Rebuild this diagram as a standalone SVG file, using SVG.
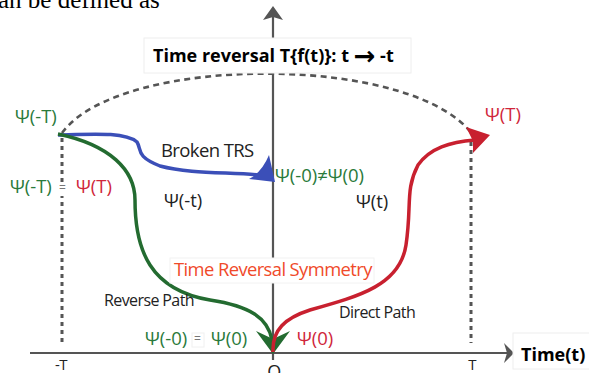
<svg xmlns="http://www.w3.org/2000/svg" width="589" height="373" viewBox="0 0 589 373">
<style>
.lbl{font-family:"Open Sans","Liberation Sans",sans-serif;letter-spacing:-0.6px}
.psi{font-family:"Open Sans","Liberation Sans",sans-serif;font-size:18.5px}
.g{fill:#2a7a3b}.r{fill:#d0263a}.k{fill:#222}
.ax{stroke:#555;stroke-width:2.2;fill:none}
.dash{stroke:#555;stroke-width:2.6;fill:none;stroke-dasharray:6 4.5}
.dot{stroke:#555;stroke-width:3;fill:none;stroke-dasharray:4 4}
.box{fill:#fff;stroke:#eee;stroke-width:1}
.bold{font-family:"Open Sans","Liberation Sans",sans-serif;font-weight:700;font-size:18px;fill:#000}
</style>
<rect width="589" height="373" fill="#fff"/>
<text x="-2" y="8" font-family="Liberation Serif,serif" font-size="25" fill="#000">an be defined as</text>
<g id="axes">
<path class="ax" d="M273 16 V360"/>
<path d="M263 20 L273 6 L283 20 L273 17 Z" fill="#555"/>
<path class="ax" d="M30 353 H508"/>
<path d="M504 343 L514 353 L504 363 L507 353 Z" fill="#555"/>
</g>
<g id="connectors">
<path class="dash" d="M62 133 C120 53 420 53 475 138"/>
<path class="dot" d="M62 138 V345"/>
<path class="dot" d="M471 142 V343"/>
<path d="M58 135 C95 134 125 132 137 142 C142 150 135 156 160 166 C190 174 230 172 258 175" fill="none" stroke="#3b4fb8" stroke-width="3.5"/>
<path d="M249 179 Q262 172 269 155 L275 182 Z" fill="#3b4fb8"/>
<path d="M58 134 C110 145 135 170 135 200 C135 250 150 290 210 300 C250 306 268 318 272 340" fill="none" stroke="#236b30" stroke-width="3.5"/>
<path d="M256 331 L273 339 L290 331 L273 354 Z" fill="#236b30"/>
<path d="M273 352 C272 330 285 318 310 310 C360 296 400 285 406 245 C412 205 405 190 418 165 C430 148 450 142 475 140" fill="none" stroke="#c8202f" stroke-width="3.5"/>
<path d="M466 127 L490 135 L473 153 L473 141 Z" fill="#c8202f"/>
</g>
<g id="title">
<rect class="box" x="144" y="38" width="267" height="35"/>
<text class="bold" x="153" y="62">Time reversal T{f(t)}: t <tspan dy="3" style="font-family:'DejaVu Sans',sans-serif;font-size:26px">→</tspan><tspan dy="-3"> -t</tspan></text>
</g>
<g id="timeaxis">
<rect class="box" x="513" y="333" width="80" height="36"/>
<text class="bold" x="521" y="361">Time(t)</text>
</g>
<g id="labels">
<text class="psi g" x="15" y="123">Ψ(-T)</text>
<text class="psi r" x="485" y="121">Ψ(T)</text>
<text class="lbl k" x="161" y="157" style="font-size:18.5px">Broken TRS</text>
<text class="psi g" x="275" y="182">Ψ(-0)≠Ψ(0)</text>
<text class="psi g" x="10" y="193">Ψ(-T)</text>
<rect x="58" y="182" width="10" height="14" fill="#fff"/>
<text class="lbl" x="59" y="192" fill="#777" style="font-size:12px">=</text>
<text class="psi r" x="76" y="193">Ψ(T)</text>
<text class="psi k" x="164" y="207">Ψ(-t)</text>
<text class="psi k" x="356" y="208">Ψ(t)</text>
<rect x="170" y="258" width="204" height="25" fill="#fff" stroke="#f2f2f2"/>
<text class="lbl" x="174" y="276" fill="#f04a2a" style="font-size:18.4px">Time Reversal Symmetry</text>
<text class="lbl k" x="104" y="306" style="font-size:16px">Reverse Path</text>
<text class="lbl k" x="339" y="318" style="font-size:16px">Direct Path</text>
<text class="psi g" x="145" y="345">Ψ(-0)</text>
<rect x="192" y="333" width="12" height="14" fill="#fff" stroke="#f0f0f0"/>
<text class="lbl" x="194" y="343" fill="#777" style="font-size:12px">=</text>
<text class="psi g" x="211" y="345">Ψ(0)</text>
<text class="psi r" x="297" y="345">Ψ(0)</text>
<text class="lbl k" x="61" y="370" text-anchor="middle" style="font-size:15px">-T</text>
<text class="lbl k" x="274" y="378" text-anchor="middle" style="font-size:18px">O</text>
<text class="lbl k" x="472" y="370" text-anchor="middle" style="font-size:15px">T</text>
</g>
</svg>
